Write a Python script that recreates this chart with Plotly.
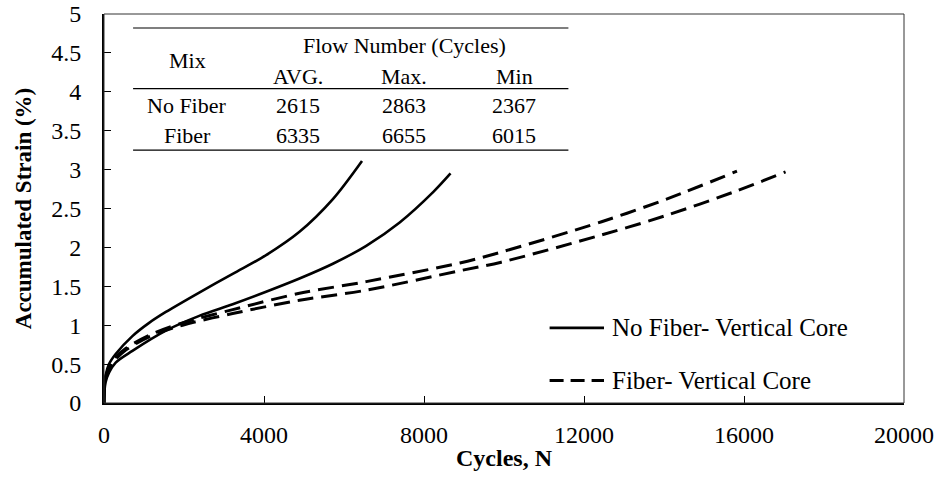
import plotly.graph_objects as go

# ---- data ----
nf1_x = [0, 10, 42, 125, 292, 710, 1128, 1546, 2381, 3217, 4052, 4887, 5722, 6450]
nf1_y = [0, 0.22, 0.36, 0.50, 0.63, 0.86, 1.03, 1.17, 1.42, 1.66, 1.90, 2.20, 2.62, 3.11]

nf2_x = [0, 10, 42, 125, 292, 710, 1546, 2381, 3217, 4052, 4887, 5722, 6556, 7392, 8228, 8663]
nf2_y = [0, 0.15, 0.27, 0.39, 0.52, 0.67, 0.93, 1.12, 1.27, 1.43, 1.60, 1.79, 2.02, 2.32, 2.71, 2.95]

f1_x = [0, 10, 42, 209, 543, 1128, 1964, 3217, 4887, 6556, 8897, 9931, 12440, 14112, 15824]
f1_y = [0, 0.20, 0.34, 0.54, 0.70, 0.87, 1.03, 1.20, 1.41, 1.56, 1.80, 1.94, 2.33, 2.63, 2.98]

f2_x = [0, 10, 42, 209, 543, 1128, 1964, 3217, 4887, 6556, 8897, 9931, 12440, 14112, 15784, 17039]
f2_y = [0, 0.18, 0.31, 0.51, 0.68, 0.85, 1.00, 1.15, 1.32, 1.45, 1.70, 1.81, 2.16, 2.42, 2.72, 2.97]

series_names = ["No Fiber- Vertical Core", "Fiber- Vertical Core"]

table_header = ["Mix", "Flow Number (Cycles)"]
table_subheader = ["AVG.", "Max.", "Min"]
table_mix = ["No Fiber", "Fiber"]
table_values = [[2615, 2863, 2367], [6335, 6655, 6015]]

x_ticks = [0, 4000, 8000, 12000, 16000, 20000]
y_ticks = [0, 0.5, 1, 1.5, 2, 2.5, 3, 3.5, 4, 4.5, 5]

FONT = '"Liberation Serif", "Times New Roman", serif'
DASH = "16px,8px"
SOLID_W = 2.6
DASH_W = 3
SMOOTH = 0.9

fig = go.Figure()
for xs, ys, nm in ((nf1_x, nf1_y, series_names[0]), (nf2_x, nf2_y, series_names[0])):
    fig.add_trace(go.Scatter(x=xs, y=ys, mode="lines", name=nm, showlegend=False,
                             line=dict(color="black", width=SOLID_W, shape="spline", smoothing=SMOOTH)))
for xs, ys, nm in ((f1_x, f1_y, series_names[1]), (f2_x, f2_y, series_names[1])):
    fig.add_trace(go.Scatter(x=xs, y=ys, mode="lines", name=nm, showlegend=False,
                             line=dict(color="black", width=DASH_W, dash=DASH, shape="spline", smoothing=SMOOTH)))

# ---- legend (drawn in paper coordinates to match the long line samples) ----
leg_x0, leg_x1, leg_tx = 0.557, 0.625, 0.632
leg_rows = [0.193, 0.058]
for ly, nm, dash, w in zip(leg_rows, series_names, ["solid", "14px,7px"], [SOLID_W, DASH_W]):
    fig.add_shape(type="line", xref="paper", yref="paper", x0=leg_x0, x1=leg_x1, y0=ly, y1=ly,
                  line=dict(color="black", width=w, dash=dash))
    fig.add_annotation(xref="paper", yref="paper", x=leg_tx, y=ly, xanchor="left", yanchor="middle",
                       text=nm, showarrow=False, font=dict(family=FONT, size=25, color="black"))

# ---- table (in data coordinates) ----
tx0, tx1 = 727, 11610
col_mix = 2080
cols = [4840, 7500, 10260]
y_top, y_mid, y_bot = 4.82, 4.04, 3.25
for yy in (y_top, y_mid, y_bot):
    fig.add_shape(type="line", x0=tx0, x1=tx1, y0=yy, y1=yy, xref="x", yref="y",
                  line=dict(color="black", width=1.2))
tfont = dict(family=FONT, size=22, color="black")
fig.add_annotation(x=col_mix, y=4.40, text=table_header[0], showarrow=False, font=tfont, xref="x", yref="y")
fig.add_annotation(x=cols[1], y=4.60, text=table_header[1], showarrow=False, font=tfont, xref="x", yref="y")
for c, t in zip(cols, table_subheader):
    fig.add_annotation(x=c, y=4.20, text=t, showarrow=False, font=tfont, xref="x", yref="y")
for ry, mix, vals in zip([3.83, 3.44], table_mix, table_values):
    fig.add_annotation(x=col_mix, y=ry, text=mix, showarrow=False, font=tfont, xref="x", yref="y")
    for c, v in zip(cols, vals):
        fig.add_annotation(x=c, y=ry, text=str(v), showarrow=False, font=tfont, xref="x", yref="y")

# plot border
fig.add_shape(type="rect", x0=0, x1=1, y0=0, y1=1, xref="paper", yref="paper",
              line=dict(color="#333", width=1), layer="above")

fig.update_layout(
    width=937, height=484,
    margin=dict(l=104, r=33, t=14, b=81, autoexpand=False),
    paper_bgcolor="white", plot_bgcolor="white",
    font=dict(family=FONT, size=24, color="black"),
    showlegend=False,
)
fig.update_xaxes(range=[0, 20000], tickvals=x_ticks, ticktext=[str(v) for v in x_ticks],
                 automargin=False,
                 showgrid=False, zeroline=False, showline=True, linecolor="black", linewidth=2,
                 ticks="inside", ticklen=7, tickcolor="black", tickwidth=1,
                 tickfont=dict(family=FONT, size=24), ticklabelstandoff=9,
                 title=dict(text="<b>Cycles, N</b>", font=dict(family=FONT, size=24), standoff=2))
fig.update_yaxes(range=[0, 5], tickvals=y_ticks, ticktext=[f"{v:g}" for v in y_ticks],
                 automargin=False,
                 showgrid=False, zeroline=False, showline=True, linecolor="black", linewidth=2,
                 ticks="inside", ticklen=7, tickcolor="black", tickwidth=1,
                 tickfont=dict(family=FONT, size=24), ticklabelstandoff=16,
                 title=dict(text="<b>Accumulated Strain (%)</b>", font=dict(family=FONT, size=23), standoff=13))

fig.write_html("out.html")
